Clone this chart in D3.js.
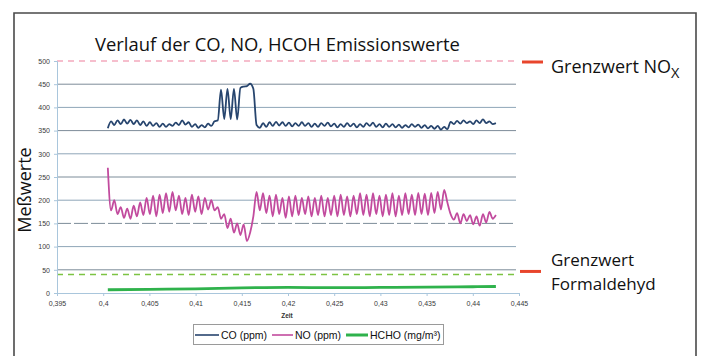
<!DOCTYPE html>
<html><head><meta charset="utf-8">
<script src="https://cdn.jsdelivr.net/npm/d3@7/dist/d3.min.js"></script>
<style>html,body{margin:0;padding:0;background:#fff;}svg{display:block;}</style>
</head><body>
<svg id="c" width="701" height="356"></svg>
<script>
// ---- data ----
const zeit = [0.40050,0.40085,0.40120,0.40155,0.40190,0.40225,0.40260,0.40295,0.40330,0.40365,
0.40400,0.40435,0.40470,0.40505,0.40540,0.40575,0.40610,0.40645,0.40680,0.40715,
0.40750,0.40785,0.40820,0.40855,0.40890,0.40925,0.40960,0.40995,0.41030,0.41065,
0.41100,0.41135,0.41170,0.41205,0.41240,0.41275,0.41310,0.41345,0.41380,0.41415,
0.41450,0.41485,0.41520,0.41555,0.41590,0.41625,0.41660,0.41695,0.41730,0.41765,
0.41800,0.41835,0.41870,0.41905,0.41940,0.41975,0.42010,0.42045,0.42080,0.42115,
0.42150,0.42185,0.42220,0.42255,0.42290,0.42325,0.42360,0.42395,0.42430,0.42465,
0.42500,0.42535,0.42570,0.42605,0.42640,0.42675,0.42710,0.42745,0.42780,0.42815,
0.42850,0.42885,0.42920,0.42955,0.42990,0.43025,0.43060,0.43095,0.43130,0.43165,
0.43200,0.43235,0.43270,0.43305,0.43340,0.43375,0.43410,0.43445,0.43480,0.43515,
0.43550,0.43585,0.43620,0.43655,0.43690,0.43725,0.43760,0.43795,0.43830,0.43865,
0.43900,0.43935,0.43970,0.44005,0.44040,0.44075,0.44110,0.44145,0.44180,0.44215,0.44250];

const coPpm = [355,370,362,372,364,374,365,373,364,372,
362,370,360,368,360,366,358,365,358,364,
360,367,362,372,363,368,358,364,356,362,
357,365,360,370,372,438,375,440,375,440,
374,442,445,446,451,440,362,356,366,358,
368,360,369,361,368,360,367,359,366,360,
368,360,366,358,365,358,366,360,367,359,
365,357,364,358,366,359,365,357,364,358,
366,360,367,358,364,357,365,358,364,357,
363,356,362,357,364,358,363,356,362,355,
360,354,360,352,358,353,369,364,371,365,
372,366,370,364,372,366,374,366,370,364,366];

const noPpm = [270,178,200,170,185,162,182,160,188,165,
195,168,205,170,210,165,212,172,215,175,
218,178,210,170,205,168,212,175,208,170,
205,180,200,178,185,160,170,140,160,130,
150,125,148,112,130,165,218,178,215,172,
210,165,212,170,205,162,208,165,210,168,
205,170,208,165,205,168,210,165,205,168,
210,165,212,168,208,165,210,170,215,168,
212,165,215,170,210,165,212,168,215,165,
210,168,215,170,212,168,216,170,214,168,
216,172,218,180,222,195,170,158,172,150,
170,155,168,148,165,145,170,152,175,160,168];

const hchoZeit = [0.4005,0.405,0.41,0.415,0.42,0.425,0.43,0.435,0.44,0.4425];
const hchoMg = [7,8,9,11,12,11.5,12,12.5,13.5,14];

const grenzNOx = 500;
const grenzHCHO = 40;

const yTicks = [0,50,100,150,200,250,300,350,400,450,500];
const xTicks = [0.395,0.4,0.405,0.41,0.415,0.42,0.425,0.43,0.435,0.44,0.445];

const seriesNames = ["CO (ppm)","NO (ppm)","HCHO (mg/m³)"];
const seriesColors = ["#27456e","#c24b9e","#2fb24c"];

// ---- drawing ----
const svg = d3.select("#c");
const x = d3.scaleLinear().domain([0.395,0.445]).range([57,519]);
const y = d3.scaleLinear().domain([0,500]).range([293,61]);

// frame
svg.append("path").attr("d","M14,360 L14,13 L696,13 L696,360")
  .attr("fill","none").attr("stroke","#4a4a4a").attr("stroke-width",1.6);

// title
svg.append("text").attr("x",95).attr("y",51).attr("font-family","Open Sans")
  .attr("font-size",18.4).attr("fill","#111").text("Verlauf der CO, NO, HCOH Emissionswerte");

// y label
svg.append("text").attr("transform","translate(31,190) rotate(-90)").attr("text-anchor","middle")
  .attr("font-family","Open Sans").attr("font-size",18).attr("fill","#111").text("Meßwerte");

// gridlines
svg.append("g").selectAll("line").data(yTicks.filter(d=>d>0 && d<500)).join("line")
  .attr("x1",x(0.395)).attr("x2",516).attr("y1",d=>y(d)).attr("y2",d=>y(d))
  .attr("stroke",(d,i)=> i%2 ? "#8fa6b8" : "#7d8c99").attr("stroke-width",1)
  .attr("stroke-dasharray",d=> d===150 ? "14,3" : null);

// limit lines
svg.append("line").attr("x1",x(0.395)).attr("x2",516).attr("y1",y(grenzNOx)).attr("y2",y(grenzNOx))
  .attr("stroke","#f4a9bd").attr("stroke-width",1.3).attr("stroke-dasharray","6,5");
svg.append("line").attr("x1",x(0.395)).attr("x2",516).attr("y1",y(grenzHCHO)).attr("y2",y(grenzHCHO))
  .attr("stroke","#7cc443").attr("stroke-width",1.6).attr("stroke-dasharray","6,5");

// axes
const fmt = d => String(+d.toFixed(3)).replace(".",",");
const yAxis = svg.append("g").attr("transform",`translate(${x(0.395)},0)`)
  .call(d3.axisLeft(y).tickValues(yTicks).tickSize(3).tickPadding(4));
const xAxis = svg.append("g").attr("transform",`translate(0,${y(0)})`)
  .call(d3.axisBottom(x).tickValues(xTicks).tickFormat(fmt).tickSize(3).tickPadding(5));
[yAxis,xAxis].forEach(a=>{
  a.select(".domain").attr("stroke","#a9c6dc");
  a.selectAll(".tick line").attr("stroke","#a9c6dc");
  a.selectAll("text").attr("font-family","Liberation Sans").attr("font-size",7).attr("fill","#3a3a3a");
});

svg.append("text").attr("x",287).attr("y",318).attr("text-anchor","middle")
  .attr("font-family","Liberation Sans").attr("font-size",6.5).attr("font-weight","bold")
  .attr("fill","#333").text("Zeit");

// series
const line = d3.line().x(d=>x(d[0])).y(d=>y(d[1])).curve(d3.curveMonotoneX);
svg.append("path").datum(d3.zip(hchoZeit,hchoMg)).attr("d",line)
  .attr("fill","none").attr("stroke",seriesColors[2]).attr("stroke-width",2.8);
svg.append("path").datum(d3.zip(zeit,noPpm)).attr("d",line)
  .attr("fill","none").attr("stroke",seriesColors[1]).attr("stroke-width",1.8).attr("stroke-linejoin","round");
svg.append("path").datum(d3.zip(zeit,coPpm)).attr("d",line)
  .attr("fill","none").attr("stroke",seriesColors[0]).attr("stroke-width",1.8).attr("stroke-linejoin","round");

// limit markers + labels
svg.append("line").attr("x1",522).attr("x2",543).attr("y1",y(grenzNOx)+1).attr("y2",y(grenzNOx)+1)
  .attr("stroke","#e8452c").attr("stroke-width",3);
svg.append("line").attr("x1",520).attr("x2",541).attr("y1",y(grenzHCHO)-3).attr("y2",y(grenzHCHO)-3)
  .attr("stroke","#e8452c").attr("stroke-width",3);
const t1 = svg.append("text").attr("x",551).attr("y",73).attr("font-family","Open Sans")
  .attr("font-size",18).attr("fill","#111");
t1.append("tspan").text("Grenzwert NO");
t1.append("tspan").attr("dy",5).attr("font-size",14.5).text("X");
svg.append("text").attr("x",551).attr("y",266).attr("font-family","Open Sans")
  .attr("font-size",17).attr("fill","#111").text("Grenzwert");
svg.append("text").attr("x",551).attr("y",289.5).attr("font-family","Open Sans")
  .attr("font-size",17).attr("fill","#111").text("Formaldehyd");

// legend
const lg = svg.append("g");
lg.append("rect").attr("x",193.5).attr("y",324.5).attr("width",250).attr("height",20)
  .attr("fill","#fff").attr("stroke","#9a9a9a").attr("stroke-width",1);
const legX = [[195,219,221],[272,293,295],[346,368,370]];
seriesNames.forEach((n,i)=>{
  lg.append("line").attr("x1",legX[i][0]).attr("x2",legX[i][1]).attr("y1",335).attr("y2",335)
    .attr("stroke",seriesColors[i]).attr("stroke-width",i===2?3:1.6);
  lg.append("text").attr("x",legX[i][2]).attr("y",339).attr("font-family","Liberation Sans")
    .attr("font-size",10.5).attr("fill","#111").text(n);
});
</script>
</body></html>
